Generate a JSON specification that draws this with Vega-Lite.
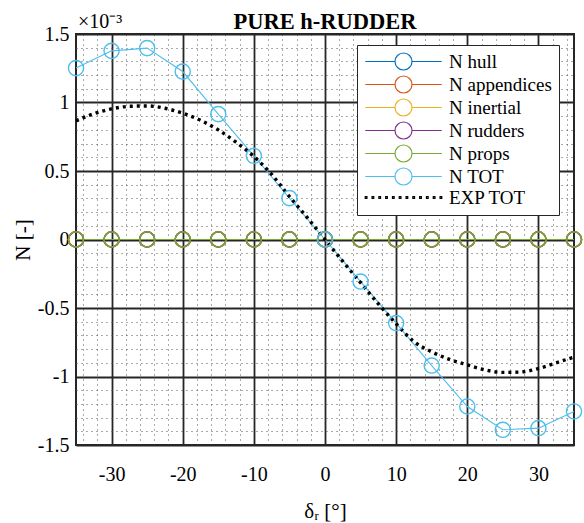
{
  "$schema": "https://vega.github.io/schema/vega-lite/v6.json",
  "width": 498,
  "height": 411,
  "autosize": {"type": "none"},
  "padding": {"left": 76, "top": 34, "right": 10, "bottom": 78},
  "background": "white",
  "title": {"text": "PURE h-RUDDER", "font": "Liberation Serif", "fontSize": 22.5, "fontWeight": "bold", "color": "black", "anchor": "middle", "frame": "group", "baseline": "alphabetic", "offset": -39},
  "config": {
    "view": {"stroke": "#262626", "strokeWidth": 2},
    "axis": {"labelFont": "Liberation Serif, serif", "titleFont": "Liberation Serif, serif", "labelColor": "black", "titleColor": "black", "titleFontWeight": "normal", "domain": false, "ticks": false},
    "style": {"guide-label": {"font": "Liberation Serif, serif"}, "guide-title": {"font": "Liberation Serif, serif"}}
  },
  "datasets": {
    "series": [
      {"series": "N hull", "d": -35, "N": 0}, {"series": "N hull", "d": -30, "N": 0}, {"series": "N hull", "d": -25, "N": 0}, {"series": "N hull", "d": -20, "N": 0}, {"series": "N hull", "d": -15, "N": 0}, {"series": "N hull", "d": -10, "N": 0}, {"series": "N hull", "d": -5, "N": 0}, {"series": "N hull", "d": 0, "N": 0}, {"series": "N hull", "d": 5, "N": 0}, {"series": "N hull", "d": 10, "N": 0}, {"series": "N hull", "d": 15, "N": 0}, {"series": "N hull", "d": 20, "N": 0}, {"series": "N hull", "d": 25, "N": 0}, {"series": "N hull", "d": 30, "N": 0}, {"series": "N hull", "d": 35, "N": 0},
      {"series": "N appendices", "d": -35, "N": 0}, {"series": "N appendices", "d": -30, "N": 0}, {"series": "N appendices", "d": -25, "N": 0}, {"series": "N appendices", "d": -20, "N": 0}, {"series": "N appendices", "d": -15, "N": 0}, {"series": "N appendices", "d": -10, "N": 0}, {"series": "N appendices", "d": -5, "N": 0}, {"series": "N appendices", "d": 0, "N": 0}, {"series": "N appendices", "d": 5, "N": 0}, {"series": "N appendices", "d": 10, "N": 0}, {"series": "N appendices", "d": 15, "N": 0}, {"series": "N appendices", "d": 20, "N": 0}, {"series": "N appendices", "d": 25, "N": 0}, {"series": "N appendices", "d": 30, "N": 0}, {"series": "N appendices", "d": 35, "N": 0},
      {"series": "N inertial", "d": -35, "N": 0}, {"series": "N inertial", "d": -30, "N": 0}, {"series": "N inertial", "d": -25, "N": 0}, {"series": "N inertial", "d": -20, "N": 0}, {"series": "N inertial", "d": -15, "N": 0}, {"series": "N inertial", "d": -10, "N": 0}, {"series": "N inertial", "d": -5, "N": 0}, {"series": "N inertial", "d": 0, "N": 0}, {"series": "N inertial", "d": 5, "N": 0}, {"series": "N inertial", "d": 10, "N": 0}, {"series": "N inertial", "d": 15, "N": 0}, {"series": "N inertial", "d": 20, "N": 0}, {"series": "N inertial", "d": 25, "N": 0}, {"series": "N inertial", "d": 30, "N": 0}, {"series": "N inertial", "d": 35, "N": 0},
      {"series": "N rudders", "d": -35, "N": 0}, {"series": "N rudders", "d": -30, "N": 0}, {"series": "N rudders", "d": -25, "N": 0}, {"series": "N rudders", "d": -20, "N": 0}, {"series": "N rudders", "d": -15, "N": 0}, {"series": "N rudders", "d": -10, "N": 0}, {"series": "N rudders", "d": -5, "N": 0}, {"series": "N rudders", "d": 0, "N": 0}, {"series": "N rudders", "d": 5, "N": 0}, {"series": "N rudders", "d": 10, "N": 0}, {"series": "N rudders", "d": 15, "N": 0}, {"series": "N rudders", "d": 20, "N": 0}, {"series": "N rudders", "d": 25, "N": 0}, {"series": "N rudders", "d": 30, "N": 0}, {"series": "N rudders", "d": 35, "N": 0},
      {"series": "N props", "d": -35, "N": 0}, {"series": "N props", "d": -30, "N": 0}, {"series": "N props", "d": -25, "N": 0}, {"series": "N props", "d": -20, "N": 0}, {"series": "N props", "d": -15, "N": 0}, {"series": "N props", "d": -10, "N": 0}, {"series": "N props", "d": -5, "N": 0}, {"series": "N props", "d": 0, "N": 0}, {"series": "N props", "d": 5, "N": 0}, {"series": "N props", "d": 10, "N": 0}, {"series": "N props", "d": 15, "N": 0}, {"series": "N props", "d": 20, "N": 0}, {"series": "N props", "d": 25, "N": 0}, {"series": "N props", "d": 30, "N": 0}, {"series": "N props", "d": 35, "N": 0},
      {"series": "N TOT", "d": -35, "N": 0.001251}, {"series": "N TOT", "d": -30, "N": 0.001377}, {"series": "N TOT", "d": -25, "N": 0.001397}, {"series": "N TOT", "d": -20, "N": 0.001226}, {"series": "N TOT", "d": -15, "N": 0.000915}, {"series": "N TOT", "d": -10, "N": 0.000611}, {"series": "N TOT", "d": -5, "N": 0.000302}, {"series": "N TOT", "d": 0, "N": 0}, {"series": "N TOT", "d": 5, "N": -0.000307}, {"series": "N TOT", "d": 10, "N": -0.00061}, {"series": "N TOT", "d": 15, "N": -0.00092}, {"series": "N TOT", "d": 20, "N": -0.001219}, {"series": "N TOT", "d": 25, "N": -0.001389}, {"series": "N TOT", "d": 30, "N": -0.001377}, {"series": "N TOT", "d": 35, "N": -0.001255},
      {"series": "EXP TOT", "d": -35, "N": 0.000866}, {"series": "EXP TOT", "d": -32.5, "N": 0.000918}, {"series": "EXP TOT", "d": -30, "N": 0.000954}, {"series": "EXP TOT", "d": -27.5, "N": 0.000972}, {"series": "EXP TOT", "d": -25, "N": 0.000975}, {"series": "EXP TOT", "d": -22.5, "N": 0.000958}, {"series": "EXP TOT", "d": -20, "N": 0.000922}, {"series": "EXP TOT", "d": -17.5, "N": 0.00087}, {"series": "EXP TOT", "d": -15, "N": 0.0008}, {"series": "EXP TOT", "d": -12.5, "N": 0.00071}, {"series": "EXP TOT", "d": -10, "N": 0.000606}, {"series": "EXP TOT", "d": -7.5, "N": 0.000475}, {"series": "EXP TOT", "d": -5, "N": 0.000314}, {"series": "EXP TOT", "d": -2.5, "N": 0.00016}, {"series": "EXP TOT", "d": 0, "N": 0}, {"series": "EXP TOT", "d": 2.5, "N": -0.00016}, {"series": "EXP TOT", "d": 5, "N": -0.000315}, {"series": "EXP TOT", "d": 7.5, "N": -0.00047}, {"series": "EXP TOT", "d": 10, "N": -0.000615}, {"series": "EXP TOT", "d": 12.5, "N": -0.000745}, {"series": "EXP TOT", "d": 15, "N": -0.00082}, {"series": "EXP TOT", "d": 17.5, "N": -0.000875}, {"series": "EXP TOT", "d": 20, "N": -0.000915}, {"series": "EXP TOT", "d": 22.5, "N": -0.000952}, {"series": "EXP TOT", "d": 25, "N": -0.00097}, {"series": "EXP TOT", "d": 27.5, "N": -0.000967}, {"series": "EXP TOT", "d": 30, "N": -0.000942}, {"series": "EXP TOT", "d": 32.5, "N": -0.0009}, {"series": "EXP TOT", "d": 35, "N": -0.000858}
    ],
    "note": [{"d": -35, "N": 0.0015, "t": "×10⁻³"}]
  },
  "resolve": {"axis": {"x": "independent", "y": "independent"}},
  "layer": [
    {
      "data": {"name": "series"},
      "transform": [{"filter": "datum.series !== 'EXP TOT'"}],
      "mark": {"type": "line", "strokeWidth": 1.1},
      "encoding": {
        "x": {"field": "d", "type": "quantitative", "scale": {"domain": [-35, 35], "nice": false, "zero": false},
          "axis": {"orient": "bottom", "values": [-34, -32, -28, -26, -24, -22, -18, -16, -14, -12, -8, -6, -4, -2, 2, 4, 6, 8, 12, 14, 16, 18, 22, 24, 26, 28, 32, 34], "labels": false, "title": null, "grid": true, "gridColor": "#555555", "gridDash": [1, 4], "gridWidth": 1}},
        "y": {"field": "N", "type": "quantitative", "scale": {"domain": [-0.0015, 0.0015], "nice": false, "zero": false},
          "axis": {"orient": "left", "values": [-0.0014, -0.0013, -0.0012, -0.0011, -0.0009, -0.0008, -0.0007, -0.0006, -0.0004, -0.0003, -0.0002, -0.0001, 0.0001, 0.0002, 0.0003, 0.0004, 0.0006, 0.0007, 0.0008, 0.0009, 0.0011, 0.0012, 0.0013, 0.0014], "labels": false, "title": null, "grid": true, "gridColor": "#555555", "gridDash": [1, 4], "gridWidth": 1}},
        "color": {"field": "series", "type": "nominal",
          "scale": {"domain": ["N hull", "N appendices", "N inertial", "N rudders", "N props", "N TOT", "EXP TOT"], "range": ["#0072BD", "#D95319", "#EDB120", "#7E2F8E", "#77AC30", "#4DBEEE", "#000000"]},
          "legend": {"title": null, "orient": "none", "legendX": 281, "legendY": 11, "fillColor": "white", "strokeColor": "#262626", "padding": 7, "cornerRadius": 0, "labelFont": "Liberation Serif", "labelFontSize": 19, "labelColor": "black", "symbolSize": 289, "symbolOffset": 30, "labelOffset": 36, "rowPadding": 0, "symbolStrokeWidth": 1.2, "symbolFillColor": "transparent",
            "encode": {"symbols": {"update": {"fill": {"value": "transparent"}, "size": {"value": 289}, "strokeWidth": {"value": 1.2},
              "shape": {"signal": "datum.value === 'EXP TOT' ? 'M-4.5,-0.1h0.2v0.2h-0.2zM-3.7,-0.1h0.2v0.2h-0.2zM-2.9,-0.1h0.2v0.2h-0.2zM-2.1,-0.1h0.2v0.2h-0.2zM-1.3,-0.1h0.2v0.2h-0.2zM-0.5,-0.1h0.2v0.2h-0.2zM0.3,-0.1h0.2v0.2h-0.2zM1.1,-0.1h0.2v0.2h-0.2zM1.9,-0.1h0.2v0.2h-0.2zM2.7,-0.1h0.2v0.2h-0.2zM3.5,-0.1h0.2v0.2h-0.2zM4.3,-0.1h0.2v0.2h-0.2z' : 'M-4.5,0H-1M1,0H4.5M-1,0A1,1 0 1,0 1,0A1,1 0 1,0 -1,0'"}}}}}}
      }
    },
    {
      "data": {"name": "series"},
      "transform": [{"filter": "datum.series === 'EXP TOT'"}],
      "mark": {"type": "line", "interpolate": "monotone", "strokeDash": [3, 4], "strokeWidth": 3.4, "color": "black"},
      "encoding": {
        "x": {"field": "d", "type": "quantitative", "axis": null},
        "y": {"field": "N", "type": "quantitative", "axis": null}
      }
    },
    {
      "data": {"name": "series"},
      "transform": [{"filter": "datum.series !== 'EXP TOT'"}],
      "mark": {"type": "point", "shape": "circle", "filled": false, "size": 230, "strokeWidth": 1.4, "opacity": 1},
      "encoding": {
        "x": {"field": "d", "type": "quantitative",
          "axis": {"orient": "bottom", "values": [-30, -20, -10, 0, 10, 20, 30], "labelExpr": "'' + datum.value", "labelFont": "Liberation Serif, serif", "titleFont": "Liberation Serif, serif", "labelFontSize": 20, "titleFontSize": 21, "grid": true, "gridColor": "#262626", "gridWidth": 1.8, "labelPadding": 19, "title": "δᵣ [°]", "titlePadding": 16,
            "encode": {"labels": {"update": {"font": {"value": "Liberation Serif, serif"}}}, "title": {"update": {"font": {"value": "Liberation Serif, serif"}}}}}},
        "y": {"field": "N", "type": "quantitative",
          "axis": {"orient": "left", "values": [-0.0015, -0.001, -0.0005, 0, 0.0005, 0.001, 0.0015], "labelExpr": "'' + (round(datum.value * 10000) / 10)", "labelFont": "Liberation Serif, serif", "titleFont": "Liberation Serif, serif", "labelFontSize": 20, "titleFontSize": 21, "grid": true, "gridColor": "#262626", "gridWidth": 1.8, "labelPadding": 7, "title": "N [-]", "titlePadding": 4,
            "encode": {"labels": {"update": {"font": {"value": "Liberation Serif, serif"}}}, "title": {"update": {"font": {"value": "Liberation Serif, serif"}}}}}},
        "color": {"field": "series", "type": "nominal"}
      }
    },
    {
      "data": {"name": "note"},
      "mark": {"type": "text", "font": "Liberation Serif", "fontSize": 20, "align": "left", "baseline": "alphabetic", "dx": 2, "dy": -6, "color": "black"},
      "encoding": {
        "x": {"field": "d", "type": "quantitative", "axis": null},
        "y": {"field": "N", "type": "quantitative", "axis": null},
        "text": {"field": "t"}
      }
    }
  ]
}
